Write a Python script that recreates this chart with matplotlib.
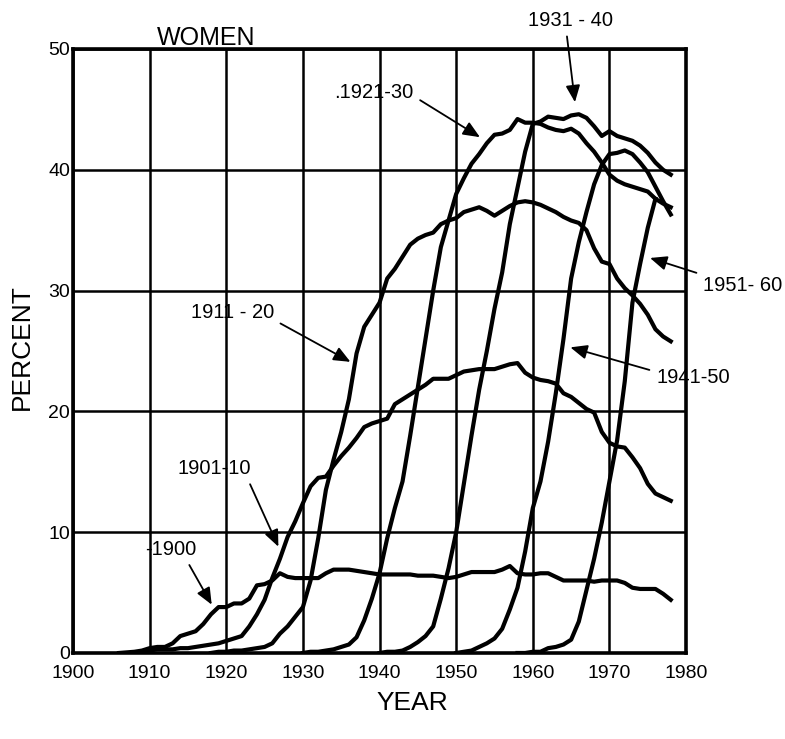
import matplotlib
matplotlib.use("Agg")
import matplotlib.pyplot as plt
import numpy as np

plt.rcParams['font.family'] = ['Liberation Sans', 'DejaVu Sans']
NARROW = ['Liberation Sans Narrow', 'Liberation Sans', 'DejaVu Sans']

# percent of women smoking, by birth cohort
yrs_1900 = np.arange(1906, 1979)
pct_1900 = [0.0, 0.05, 0.1, 0.2, 0.4, 0.5, 0.5, 0.8, 1.4, 1.6, 1.8, 2.4, 3.2, 3.8,
            3.8, 4.1, 4.1, 4.5, 5.6, 5.7, 6.0, 6.6, 6.3, 6.2, 6.2, 6.2, 6.2, 6.6,
            6.9, 6.9, 6.9, 6.8, 6.7, 6.6, 6.5, 6.5, 6.5, 6.5, 6.5, 6.4, 6.4, 6.4,
            6.3, 6.2, 6.3, 6.5, 6.7, 6.7, 6.7, 6.7, 6.9, 7.2, 6.6, 6.5, 6.5, 6.6,
            6.6, 6.3, 6.0, 6.0, 6.0, 6.0, 5.9, 6.0, 6.0, 6.0, 5.8, 5.4, 5.3, 5.3,
            5.3, 4.9, 4.4]

yrs_1901_10 = np.arange(1908, 1979)
pct_1901_10 = [0.0, 0.1, 0.2, 0.3, 0.3, 0.3, 0.4, 0.4, 0.5, 0.6, 0.7, 0.8, 1.0,
               1.2, 1.4, 2.2, 3.2, 4.4, 6.2, 7.8, 9.6, 10.9, 12.4, 13.8, 14.5,
               14.6, 15.5, 16.3, 17.0, 17.8, 18.7, 19.0, 19.2, 19.4, 20.6, 21.0,
               21.4, 21.8, 22.2, 22.7, 22.7, 22.7, 23.0, 23.3, 23.4, 23.5, 23.5,
               23.5, 23.7, 23.9, 24.0, 23.2, 22.8, 22.6, 22.5, 22.3, 21.5, 21.2,
               20.7, 20.2, 19.9, 18.3, 17.4, 17.1, 17.0, 16.2, 15.3, 14.0, 13.2,
               12.9, 12.6]

yrs_1911_20 = np.arange(1918, 1979)
pct_1911_20 = [0.0, 0.1, 0.1, 0.2, 0.2, 0.3, 0.4, 0.5, 0.8, 1.6, 2.2, 3.0, 3.8,
               6.0, 9.5, 13.5, 16.0, 18.3, 21.0, 24.8, 27.0, 28.0, 29.0, 31.0,
               31.8, 32.8, 33.8, 34.3, 34.6, 34.8, 35.5, 35.8, 36.0, 36.5, 36.7,
               36.9, 36.6, 36.2, 36.6, 37.0, 37.3, 37.4, 37.3, 37.1, 36.8, 36.5,
               36.1, 35.8, 35.6, 35.0, 33.5, 32.4, 32.2, 31.0, 30.2, 29.6, 28.9,
               28.0, 26.8, 26.2, 25.8]

yrs_1921_30 = np.arange(1930, 1979)
pct_1921_30 = [0.0, 0.1, 0.1, 0.2, 0.3, 0.5, 0.7, 1.3, 2.7, 4.5, 6.6, 9.5, 12.0,
               14.2, 18.0, 22.0, 26.0, 30.0, 33.6, 35.8, 38.0, 39.3, 40.5, 41.3,
               42.2, 42.9, 43.0, 43.3, 44.2, 43.9, 43.9, 43.8, 43.5, 43.3, 43.2,
               43.4, 43.0, 42.2, 41.5, 40.6, 39.6, 39.1, 38.8, 38.6, 38.4, 38.2,
               37.6, 37.2, 36.9]

yrs_1931_40 = np.arange(1940, 1979)
pct_1931_40 = [0.0, 0.1, 0.1, 0.2, 0.5, 0.9, 1.4, 2.2, 4.5, 7.0, 10.0, 14.0, 18.0,
               21.8, 25.0, 28.5, 31.5, 35.5, 38.5, 41.5, 43.8, 44.0, 44.4, 44.3,
               44.2, 44.5, 44.6, 44.3, 43.6, 42.8, 43.2, 42.8, 42.6, 42.4, 42.0,
               41.4, 40.6, 40.0, 39.6]

yrs_1941_50 = np.arange(1950, 1979)
pct_1941_50 = [0.0, 0.1, 0.2, 0.5, 0.8, 1.2, 2.0, 3.6, 5.4, 8.4, 12.0, 14.2, 17.5,
               21.5, 26.0, 31.0, 34.0, 36.5, 38.8, 40.4, 41.3, 41.4, 41.6, 41.3,
               40.6, 39.8, 38.6, 37.4, 36.3]

yrs_1951_60 = np.arange(1958, 1977)
pct_1951_60 = [0.0, 0.0, 0.1, 0.1, 0.4, 0.5, 0.7, 1.1, 2.6, 5.2, 7.8, 10.8, 14.2,
               17.6, 22.5, 29.0, 32.2, 35.2, 37.6]

cohorts = [
    (yrs_1900, pct_1900),
    (yrs_1901_10, pct_1901_10),
    (yrs_1911_20, pct_1911_20),
    (yrs_1921_30, pct_1921_30),
    (yrs_1931_40, pct_1931_40),
    (yrs_1941_50, pct_1941_50),
    (yrs_1951_60, pct_1951_60),
]

# label text, arrow tip, text centre (data units), where the arrow leaves the text
labels = [
    ("-1900", (1918.1, 4.0), (1912.7, 8.6), (0.8, 0.0)),
    ("1901-10", (1926.8, 8.8), (1918.4, 15.3), (0.95, 0.0)),
    ("1911 - 20", (1936.2, 24.1), (1920.8, 28.2), (1.0, 0.1)),
    (".1921-30", (1953.1, 42.7), (1939.3, 46.4), (1.0, 0.3)),
    ("1931 - 40", (1965.5, 45.6), (1964.9, 52.4), (0.45, 0.0)),
    ("1941-50", (1964.9, 25.3), (1980.9, 22.8), (0.0, 0.8)),
    ("1951- 60", (1975.3, 32.7), (1987.4, 30.4), (0.05, 1.0)),
]

fig = plt.figure(figsize=(7.85, 7.39), dpi=100)
ax = fig.add_axes([0.093, 0.1164, 0.781, 0.8173])

for yrs, pct in cohorts:
    ax.plot(yrs, pct, color='black', lw=3, solid_joinstyle='round', zorder=3)

ax.set_xlim(1900, 1980)
ax.set_ylim(0, 50)
ax.set_xticks(range(1900, 1981, 10))
ax.set_yticks(range(0, 51, 10))
ax.grid(True, color='black', lw=1.8)
for s in ax.spines.values():
    s.set_linewidth(2.6)
ax.tick_params(axis='both', labelsize=14, length=0, pad=2)
ax.tick_params(axis='x', pad=9)

fig.text(0.028, 0.530, "PERCENT", rotation=90, fontsize=19, family=NARROW,
         ha='center', va='center')
fig.text(0.525, 0.049, "YEAR", fontsize=19, family=NARROW,
         ha='center', va='center')

ax.text(1910.96, 50.35, "WOMEN", fontsize=18, ha='left', va='baseline')

for txt, tip, pos, rp in labels:
    ax.annotate(txt, xy=tip, xytext=pos, ha='center', va='center', fontsize=14.5,
                annotation_clip=False,
                arrowprops=dict(arrowstyle='-|>,head_length=0.7,head_width=0.3',
                                color='black', lw=1.3, relpos=rp,
                                shrinkA=3, shrinkB=0))

fig.savefig("out.png", dpi=100)
